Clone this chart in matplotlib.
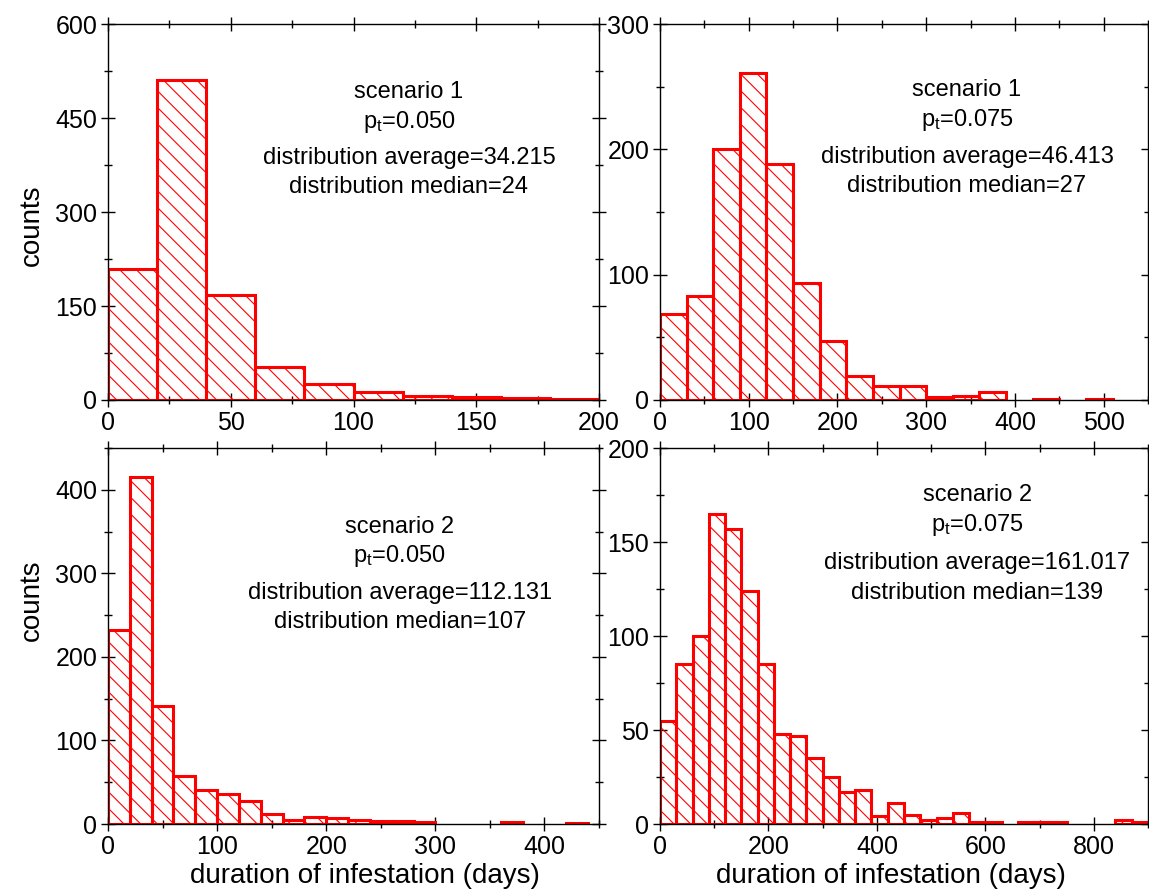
import numpy as np
import matplotlib
matplotlib.use('Agg')
import matplotlib.pyplot as plt
from matplotlib.ticker import MultipleLocator

plt.rcParams['font.family'] = ['Liberation Sans', 'DejaVu Sans']
plt.rcParams['mathtext.fontset'] = 'custom'
plt.rcParams['mathtext.rm'] = 'Liberation Sans'
plt.rcParams['mathtext.it'] = 'Liberation Sans'
plt.rcParams['hatch.linewidth'] = 0.8
plt.rcParams['hatch.color'] = 'red'

# counts per bin
tl_counts = [209, 511, 167, 53, 26, 13, 6, 4, 3, 1]
tr_counts = [69, 83, 200, 261, 188, 93, 47, 19, 11, 11, 2, 3, 6, 0, 1, 0, 1]
bl_counts = [232, 415, 141, 58, 41, 36, 27, 12, 5, 8, 7, 5, 4, 3, 2,
             0, 0, 0, 2, 0, 0, 1]
br_counts = [55, 85, 100, 165, 157, 124, 85, 48, 47, 35, 25, 17, 18, 4, 11,
             5, 2, 3, 6, 1, 1, 0, 1, 1, 1, 0, 0, 0, 2, 1]

tl_width, tr_width, bl_width, br_width = 20, 30, 20, 30

tl_text = ['scenario 1', r'p$_\mathrm{t}$=0.050',
           'distribution average=34.215', 'distribution median=24']
tr_text = ['scenario 1', r'p$_\mathrm{t}$=0.075',
           'distribution average=46.413', 'distribution median=27']
bl_text = ['scenario 2', r'p$_\mathrm{t}$=0.050',
           'distribution average=112.131', 'distribution median=107']
br_text = ['scenario 2', r'p$_\mathrm{t}$=0.075',
           'distribution average=161.017', 'distribution median=139']

fig = plt.figure(figsize=(11.49, 8.92), dpi=100)
W, H = 1149, 892


def make_ax(left, top, width, height):
    return fig.add_axes([left / W, (H - top - height) / H, width / W, height / H])


ax_tl = make_ax(108, 24, 491, 376)
ax_tr = make_ax(660, 24, 488, 376)
ax_bl = make_ax(108, 448, 491, 376)
ax_br = make_ax(660, 448, 488, 376)


def draw_hist(ax, counts, width):
    counts = np.array(counts)
    edges = np.arange(len(counts)) * width
    keep = counts > 0
    ax.bar(edges[keep], counts[keep], width=width, align='edge', fill=False,
           edgecolor='red', linewidth=2.2, hatch='\\\\', zorder=2)


def style(ax, xmax, ymax, xmaj, xmin, ymaj, ymin):
    ax.set_xlim(0, xmax)
    ax.set_ylim(0, ymax)
    ax.xaxis.set_major_locator(MultipleLocator(xmaj))
    ax.xaxis.set_minor_locator(MultipleLocator(xmin))
    ax.yaxis.set_major_locator(MultipleLocator(ymaj))
    ax.yaxis.set_minor_locator(MultipleLocator(ymin))
    ax.tick_params(which='both', direction='inout', top=True, right=True,
                   width=1.0, labelsize=18, pad=3)
    ax.tick_params(which='major', length=9.5)
    ax.tick_params(which='minor', length=6)
    for s in ax.spines.values():
        s.set_linewidth(1.0)
        s.set_zorder(3)


def add_text(ax, lines, xc, ys):
    for line, y in zip(lines, ys):
        ax.text(xc, y, line, transform=ax.transAxes, ha='center', va='center',
                fontsize=17)


draw_hist(ax_tl, tl_counts, tl_width)
draw_hist(ax_tr, tr_counts, tr_width)
draw_hist(ax_bl, bl_counts, bl_width)
draw_hist(ax_br, br_counts, br_width)

style(ax_tl, 200, 600, 50, 25, 150, 75)
style(ax_tr, 550, 300, 100, 50, 100, 50)
style(ax_bl, 450, 450, 100, 50, 100, 50)
style(ax_br, 900, 200, 200, 100, 50, 25)

add_text(ax_tl, tl_text, 0.613, [0.82, 0.74, 0.644, 0.566])
add_text(ax_tr, tr_text, 0.629, [0.824, 0.745, 0.646, 0.569])
add_text(ax_bl, bl_text, 0.594, [0.79, 0.713, 0.614, 0.537])
add_text(ax_br, br_text, 0.65, [0.875, 0.795, 0.694, 0.614])

ax_tl.set_ylabel('counts', fontsize=20)
ax_tl.yaxis.set_label_coords(-0.128, 0.465)
ax_bl.set_ylabel('counts', fontsize=20)
ax_bl.yaxis.set_label_coords(-0.128, 0.596)

ax_bl.set_xlabel('duration of infestation (days)', fontsize=20)
ax_bl.xaxis.set_label_coords(0.523, -0.105)
ax_br.set_xlabel('duration of infestation (days)', fontsize=20)
ax_br.xaxis.set_label_coords(0.474, -0.105)

fig.savefig('out.png', dpi=100)
